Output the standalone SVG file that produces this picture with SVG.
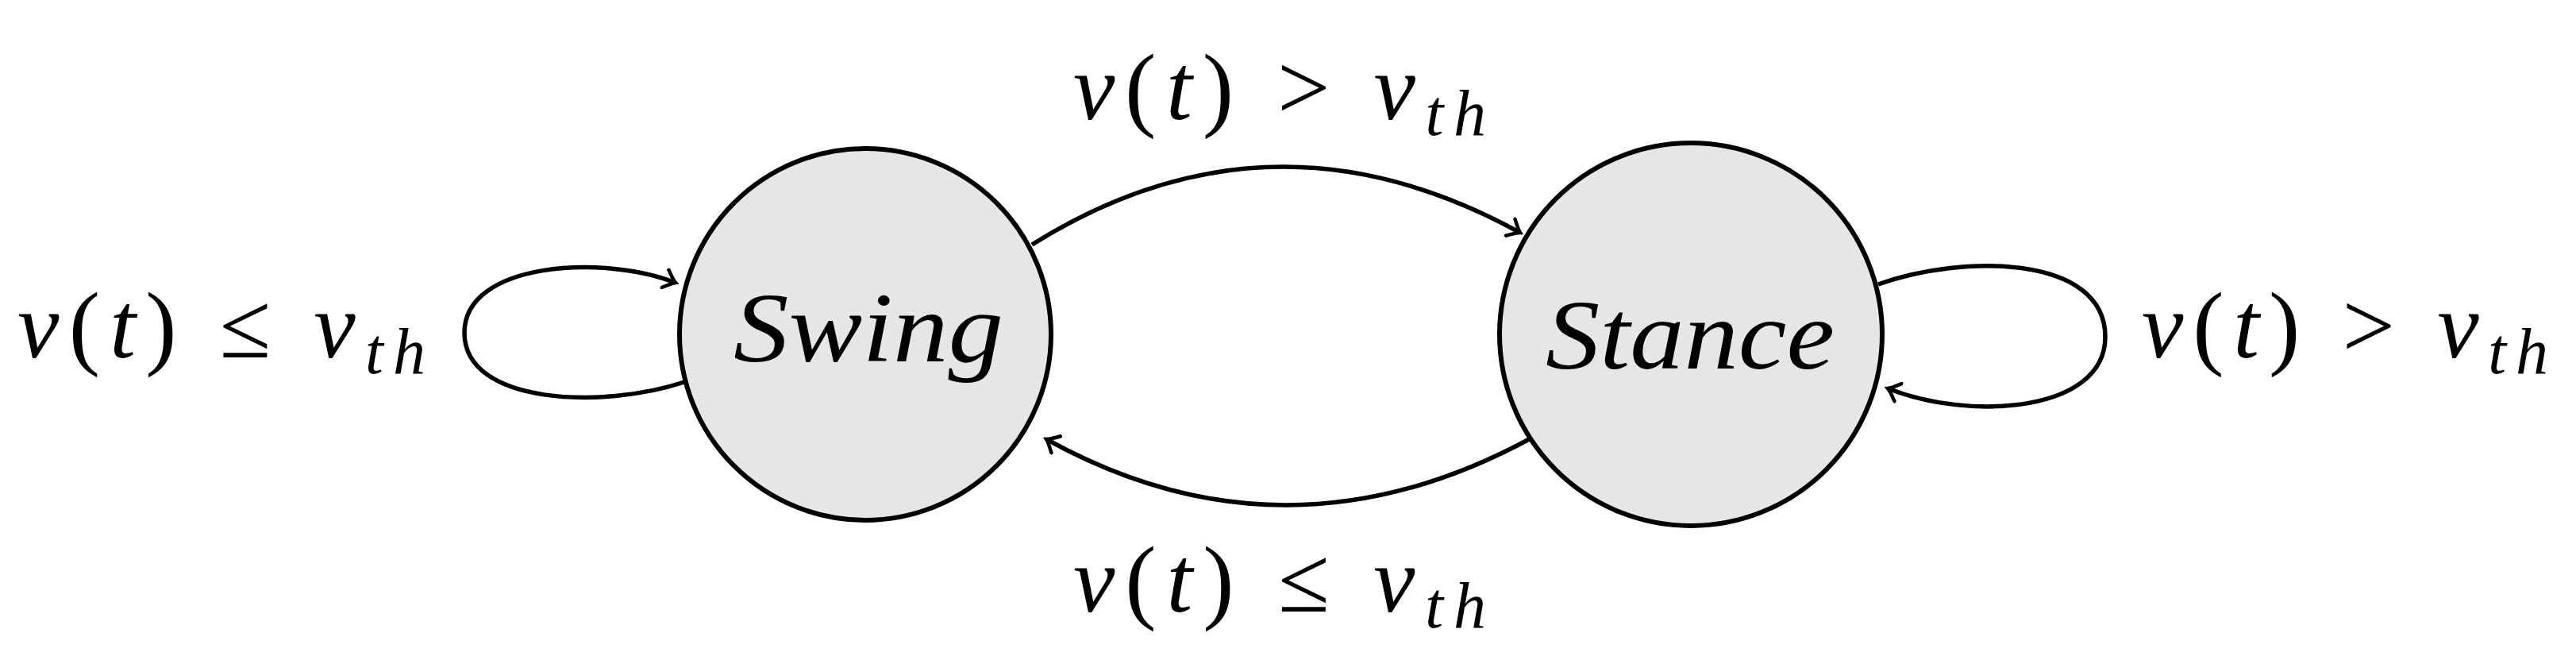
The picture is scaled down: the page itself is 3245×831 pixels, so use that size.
<svg xmlns="http://www.w3.org/2000/svg" width="3245" height="831" viewBox="0 0 3245 831">
<style>
.n{fill:#e6e6e6;stroke:#000;stroke-width:6}
.e{fill:none;stroke:#000;stroke-width:5.5;marker-end:url(#a)}
text{font-family:"Liberation Serif","DejaVu Serif",serif;font-size:118px;fill:#000}
.i{font-style:italic}
.s{font-size:82px;font-style:italic}
.b{font-size:125px}
</style>
<defs>
<marker id="a" viewBox="-16 -14 20 28" markerWidth="20" markerHeight="28" refX="0" refY="0" orient="auto" markerUnits="userSpaceOnUse">
<path d="M-14,-12 Q-4,-2 0,0 Q-4,2 -14,12" fill="none" stroke="#000" stroke-width="4.5" stroke-linecap="round"/>
</marker>
</defs>
<g id="connectors">
<path class="e" d="M1300,308 Q1600,120 1915,293"/>
<path class="e" d="M1930,551 Q1620,720 1318,553"/>
<path class="e" d="M862,481 C760,515 585,510 585,419 C585,330 760,320 851,356"/>
<path class="e" d="M2366,358 C2470,320 2652,320 2652,424 C2652,520 2480,530 2378,489"/>
</g>
<g id="swing"><circle class="n" cx="1090" cy="421" r="234"/><text class="i b" x="924" y="455" textLength="340" lengthAdjust="spacingAndGlyphs">Swing</text></g>
<g id="stance"><circle class="n" cx="2130" cy="421" r="241"/><text class="i b" x="1947" y="464" textLength="364" lengthAdjust="spacingAndGlyphs">Stance</text></g>
<g id="labels">
<text x="22" y="450" textLength="514" lengthAdjust="spacing"><tspan class="i">v</tspan>(<tspan class="i">t</tspan>) ≤ <tspan class="i">v</tspan><tspan class="s" dy="20">th</tspan></text>
<text x="2698" y="450" textLength="512" lengthAdjust="spacing"><tspan class="i">v</tspan>(<tspan class="i">t</tspan>) &gt; <tspan class="i">v</tspan><tspan class="s" dy="20">th</tspan></text>
<text x="1352" y="150" textLength="520" lengthAdjust="spacing"><tspan class="i">v</tspan>(<tspan class="i">t</tspan>) &gt; <tspan class="i">v</tspan><tspan class="s" dy="20">th</tspan></text>
<text x="1352" y="770" textLength="520" lengthAdjust="spacing"><tspan class="i">v</tspan>(<tspan class="i">t</tspan>) ≤ <tspan class="i">v</tspan><tspan class="s" dy="20">th</tspan></text>
</g>
</svg>
